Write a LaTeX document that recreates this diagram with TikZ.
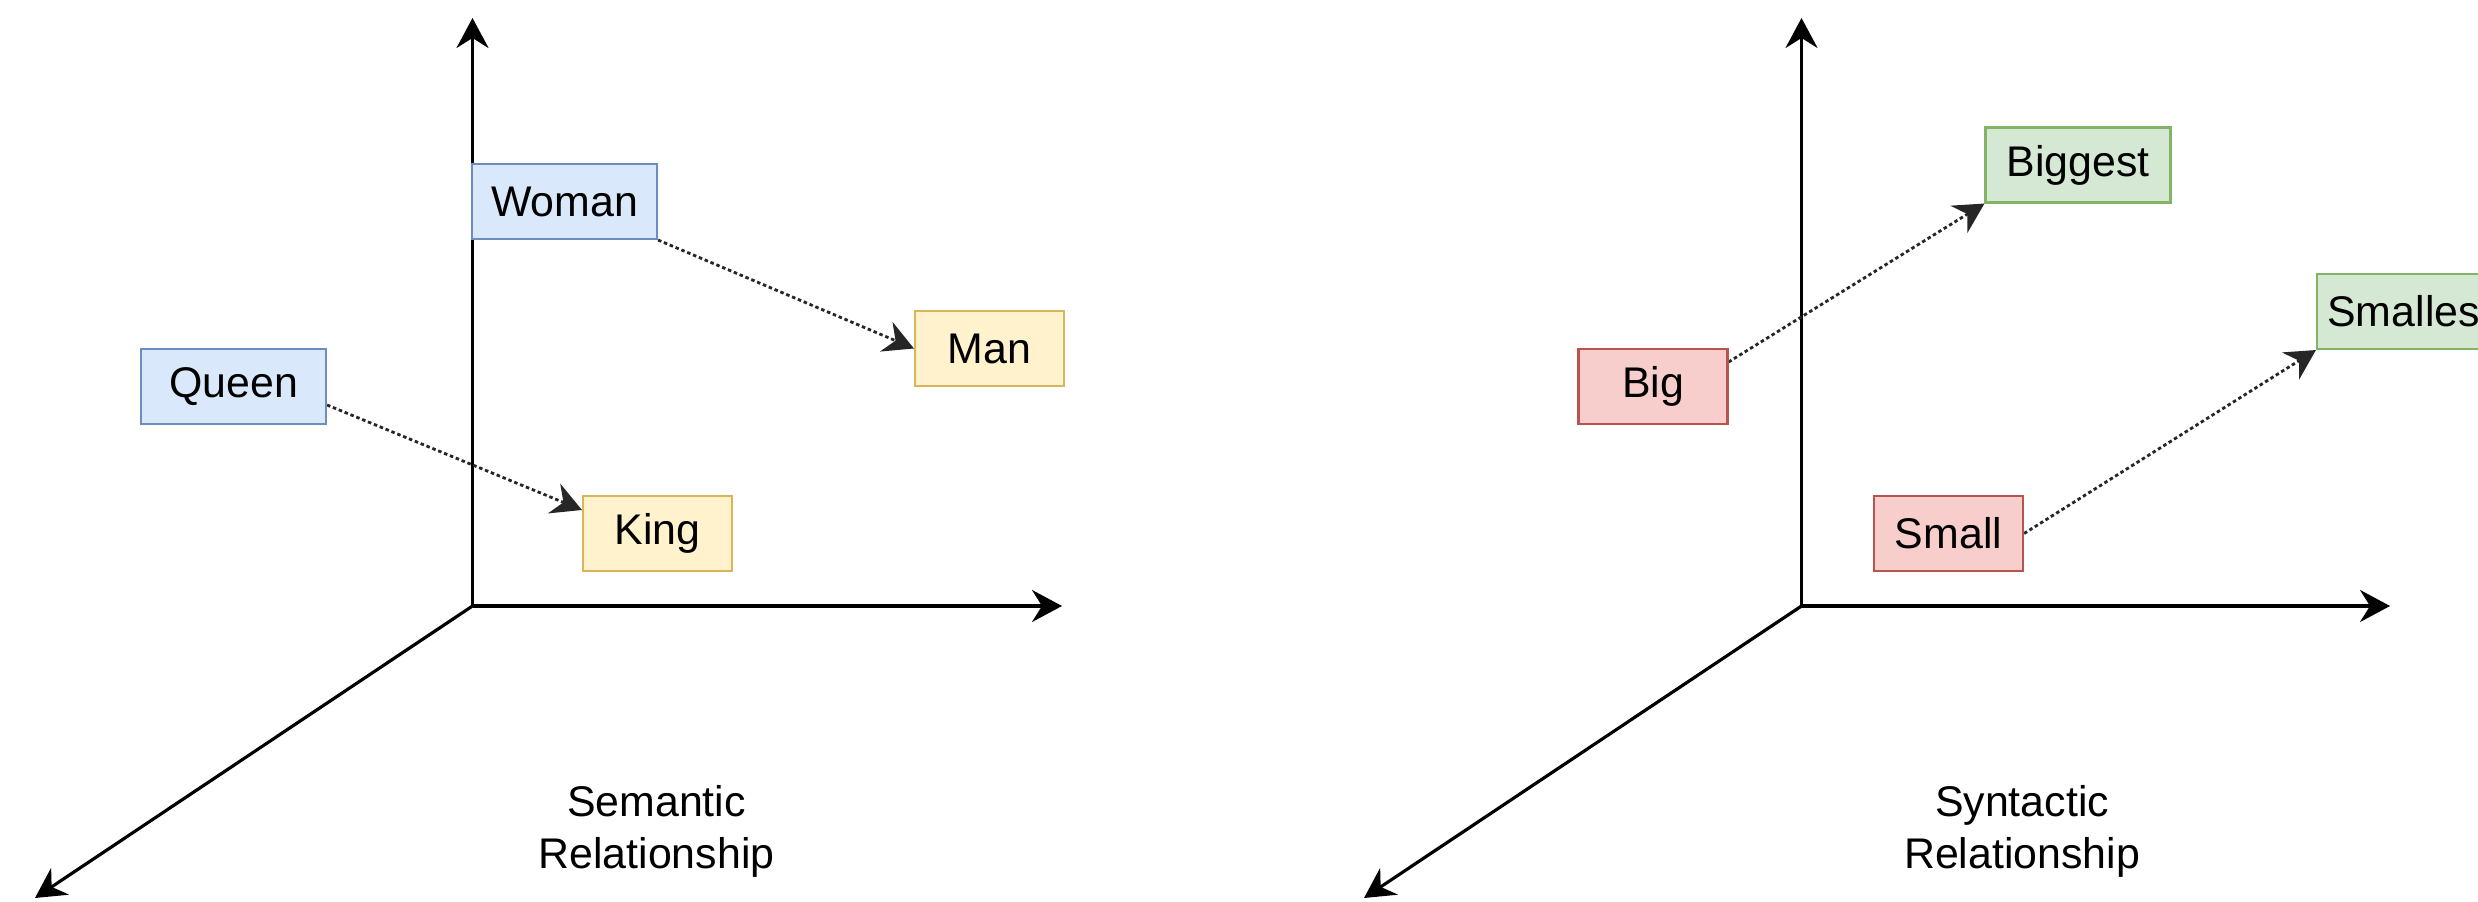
\documentclass[tikz,border=0pt]{standalone}
\usepackage{fontspec}
\setmainfont{Liberation Sans}
\usetikzlibrary{arrows.meta}
\pgfdeclarelayer{edgelayer}
\pgfdeclarelayer{nodelayer}
\pgfsetlayers{edgelayer,nodelayer,main}
\definecolor{blueline}{HTML}{6C8EBF}
\definecolor{bluefill}{HTML}{DAE8FC}
\definecolor{yellowline}{HTML}{D6B656}
\definecolor{yellowfill}{HTML}{FFF2CC}
\definecolor{redline}{HTML}{B85450}
\definecolor{redfill}{HTML}{F8CECC}
\definecolor{greenline}{HTML}{82B366}
\definecolor{greenfill}{HTML}{D5E8D4}
\tikzstyle{none}=[inner sep=0pt]
\tikzstyle{word}=[draw, line width=0.6pt, minimum height=7.5mm, inner sep=0pt, font=\fontsize{12.2}{14.8}\selectfont]
\tikzstyle{blue word}=[word, draw=blueline, fill=bluefill, minimum width=18.5mm]
\tikzstyle{yellow word}=[word, draw=yellowline, fill=yellowfill, minimum width=14.9mm]
\tikzstyle{red word}=[word, draw=redline, fill=redfill, minimum width=14.9mm]
\tikzstyle{green word}=[word, draw=greenline, fill=greenfill, minimum width=18.5mm]
\tikzstyle{axis title}=[align=center, font=\fontsize{12.2}{14.8}\selectfont]
\tikzstyle{axis}=[-{Stealth[length=3mm,width=3.2mm,inset=1mm]}, line width=0.9pt, draw=black]
\tikzstyle{relation}=[-{Stealth[length=3mm,width=3.2mm,inset=1mm]}, line width=0.8pt, dash pattern=on 1pt off 0.8pt, draw=black!85]

\begin{document}
\begin{tikzpicture}
	\useasboundingbox (0, 0) rectangle (24.78, 9.01);
	\begin{pgfonlayer}{nodelayer}
		\node [style=blue word] (0) at (5.645, 6.995) {Woman};
		\node [style=yellow word] (1) at (9.895, 5.525) {Man};
		\node [style=blue word] (2) at (2.335, 5.145) {Queen};
		\node [style=yellow word] (3) at (6.575, 3.675) {King};
		\node [style=red word] (4) at (16.53, 5.145) {Big};
		\node [style=green word] (5) at (20.78, 7.36) {Biggest};
		\node [style=red word] (6) at (19.485, 3.675) {Small};
		\node [style=green word] (7) at (24.095, 5.895) {Smallest};
		\node [style=axis title] (8) at (6.565, 0.695) {Semantic\\Relationship};
		\node [style=axis title] (9) at (20.22, 0.695) {Syntactic\\Relationship};
		\node [style=none] (10) at (4.725, 2.95) {};
		\node [style=none] (11) at (4.725, 8.83) {};
		\node [style=none] (12) at (10.62, 2.95) {};
		\node [style=none] (13) at (0.35, 0.03) {};
		\node [style=none] (14) at (18.015, 2.95) {};
		\node [style=none] (15) at (18.015, 8.83) {};
		\node [style=none] (16) at (23.9, 2.95) {};
		\node [style=none] (17) at (13.64, 0.03) {};
	\end{pgfonlayer}
	\begin{pgfonlayer}{edgelayer}
		\draw [style=axis] (10.center) to (11.center);
		\draw [style=axis] (10.center) to (12.center);
		\draw [style=axis] (10.center) to (13.center);
		\draw [style=axis] (14.center) to (15.center);
		\draw [style=axis] (14.center) to (16.center);
		\draw [style=axis] (14.center) to (17.center);
		\draw [style=relation] (0.south east) to (1.west);
		\draw [style=relation] ([yshift=-1.85mm]2.east) to ([yshift=2.35mm]3.west);
		\draw [style=relation] ([yshift=2.45mm]4.east) to (5.south west);
		\draw [style=relation] (6.east) to (7.south west);
	\end{pgfonlayer}
\end{tikzpicture}
\end{document}
